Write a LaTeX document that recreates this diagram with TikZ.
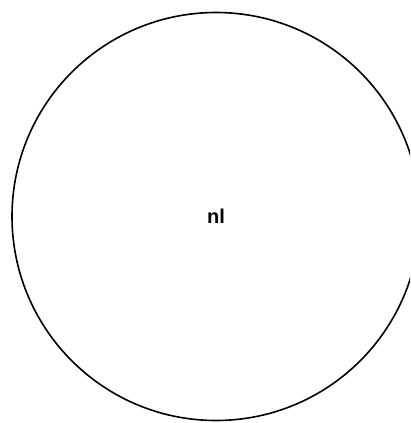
\documentclass[tikz,border=0pt]{standalone}
\usepackage{fontspec}
\setmainfont{Liberation Sans}
\begin{document}
\begin{tikzpicture}[x=1pt,y=1pt]
\tikzset{ring/.style={draw=black,line width=1.6pt,circle,minimum size=408pt,inner sep=0pt},
lbl/.style={font=\fontsize{20}{22}\selectfont\bfseries}}
\useasboundingbox (0,0) rectangle (410,423);
\begin{scope}
\clip (0,0) rectangle (410,423);
\node[ring] (c) at (216,206.5) {};
\end{scope}
\node[lbl] (t) at (c.center) {nl};
\end{tikzpicture}
\end{document}
